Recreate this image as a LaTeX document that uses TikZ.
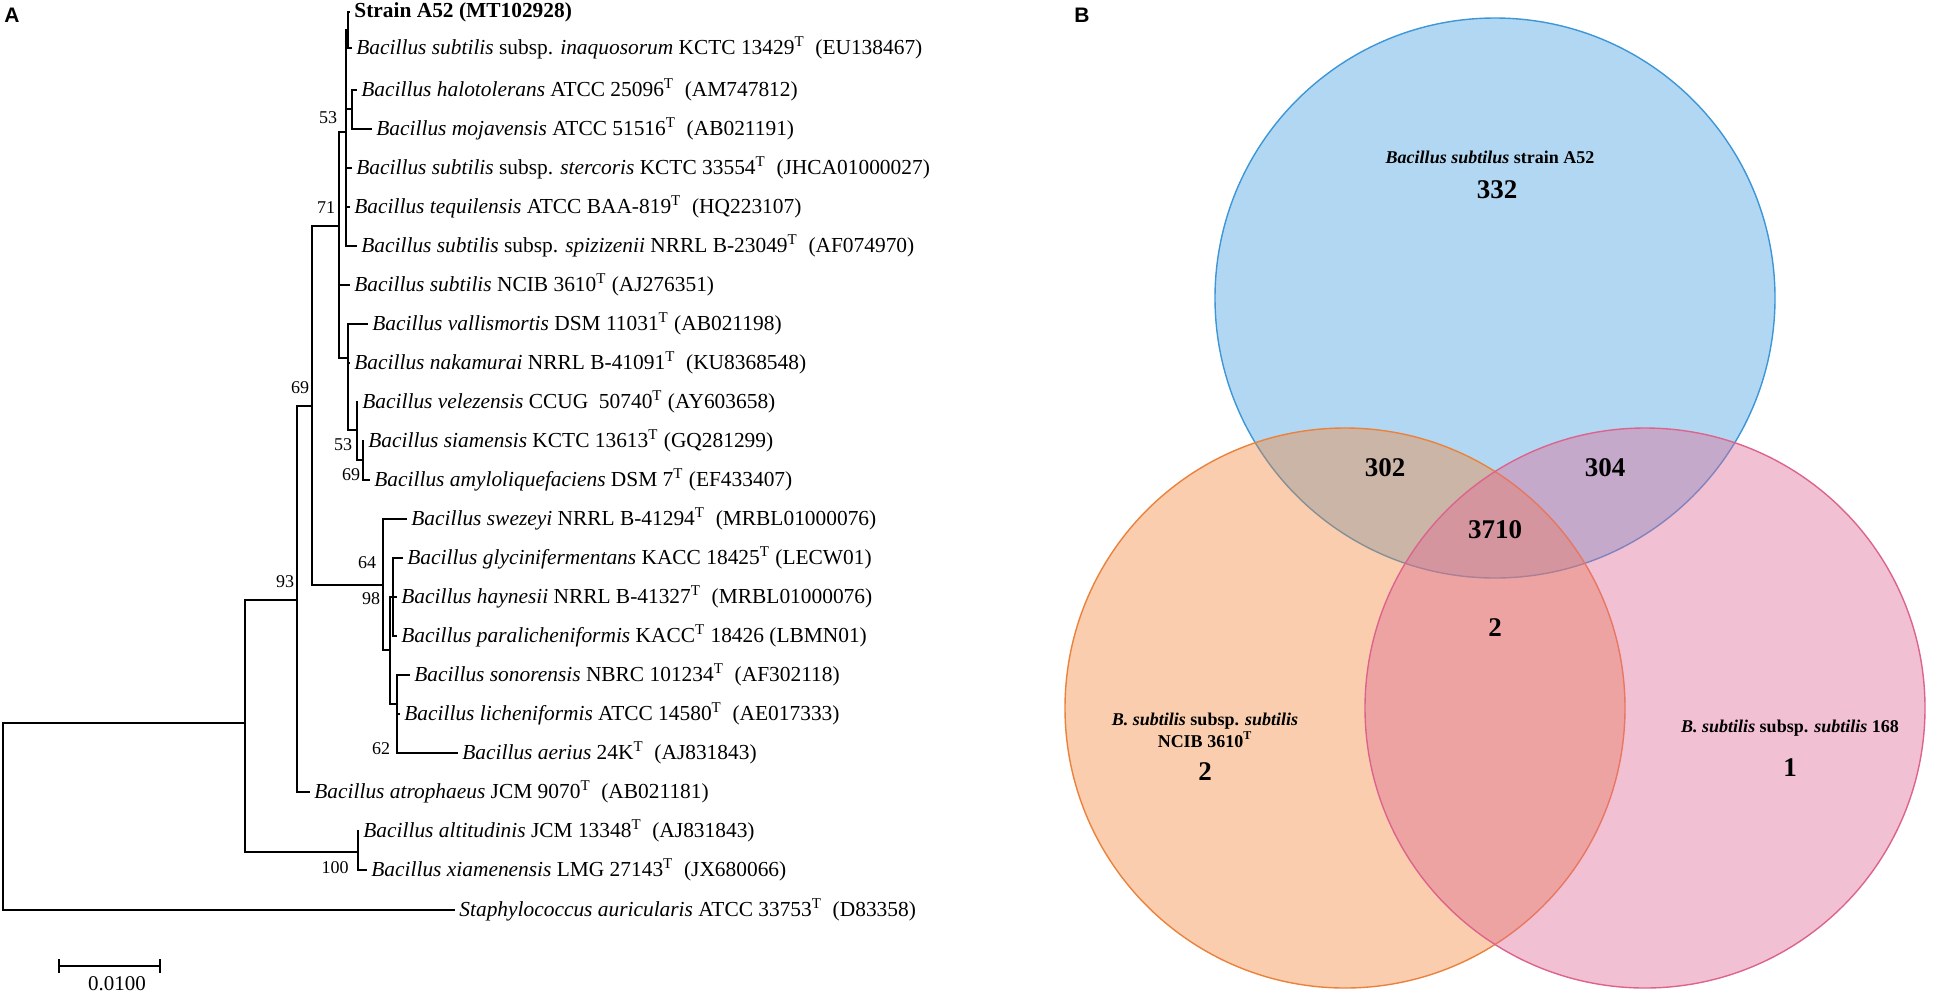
\documentclass[tikz,border=0pt]{standalone}
\usepackage{fontspec}
\setmainfont{Liberation Serif}
\newfontfamily\panelfont{Liberation Sans}
\usepackage{tikz}

\definecolor{blueline}{RGB}{60,150,215}
\definecolor{bluefill}{RGB}{70,160,225}
\definecolor{orangeline}{RGB}{235,130,60}
\definecolor{orangefill}{RGB}{240,135,60}
\definecolor{pinkline}{RGB}{220,100,140}
\definecolor{pinkfill}{RGB}{225,105,150}

\begin{document}
\begin{tikzpicture}[x=0.5pt,y=-0.5pt]
\tikzset{
  leaf/.style={anchor=west,inner xsep=2pt,inner ysep=0pt,font=\fontsize{10.7}{13}\selectfont},
  boot/.style={inner sep=0pt,font=\fontsize{9}{10}\selectfont},
  branch/.style={line width=0.8pt},
  vset/.style={circle,inner sep=0pt,minimum size=280pt,line width=0.7pt,fill opacity=0.42},
  vtext/.style={align=center,font=\fontsize{9}{11}\selectfont\bfseries},
  vnum/.style={font=\fontsize{13.5}{15}\selectfont\bfseries}
}
\useasboundingbox (0,0) rectangle (1950,993);

\node[font=\panelfont\fontsize{10.5}{12}\selectfont\bfseries] (pA) at (12,15) {A};
\node[font=\panelfont\fontsize{10.5}{12}\selectfont\bfseries] (pB) at (1082,15) {B};

\node[leaf] (l0) at (350,12) {\textbf{Strain A52 (MT102928)}};
\node[leaf] (l1) at (352,48) {\textit{Bacillus subtilis} subsp. \textit{inaquosorum} KCTC 13429\textsuperscript{T}\ \ (EU138467)};
\node[leaf] (l2) at (357,90) {\textit{Bacillus halotolerans} ATCC 25096\textsuperscript{T}\ \ (AM747812)};
\node[leaf] (l3) at (372,129) {\textit{Bacillus mojavensis}\ ATCC 51516\textsuperscript{T}\ \ (AB021191)};
\node[leaf] (l4) at (352,168) {\textit{Bacillus subtilis} subsp. \textit{stercoris} KCTC\ 33554\textsuperscript{T}\ \ (JHCA01000027)};
\node[leaf] (l5) at (350,207) {\textit{Bacillus tequilensis} ATCC BAA-819\textsuperscript{T}\ \ (HQ223107)};
\node[leaf] (l6) at (357,246) {\textit{Bacillus subtilis} subsp. \textit{spizizenii} NRRL\ B-23049\textsuperscript{T}\ \ (AF074970)};
\node[leaf] (l7) at (350,285) {\textit{Bacillus subtilis}\ NCIB\ 3610\textsuperscript{T}\ (AJ276351)};
\node[leaf] (l8) at (368,324) {\textit{Bacillus vallismortis} DSM\ 11031\textsuperscript{T}\ (AB021198)};
\node[leaf] (l9) at (350,363) {\textit{Bacillus nakamurai} NRRL\ B-41091\textsuperscript{T}\ \ (KU8368548)};
\node[leaf] (l10) at (358,402) {\textit{Bacillus velezensis}\ CCUG\ \ 50740\textsuperscript{T}\ (AY603658)};
\node[leaf] (l11) at (364,441) {\textit{Bacillus siamensis} KCTC\ 13613\textsuperscript{T}\ (GQ281299)};
\node[leaf] (l12) at (370,480) {\textit{Bacillus amyloliquefaciens} DSM 7\textsuperscript{T} (EF433407)};
\node[leaf] (l13) at (407,519) {\textit{Bacillus swezeyi} NRRL\ B-41294\textsuperscript{T}\ \ (MRBL01000076)};
\node[leaf] (l14) at (403,558) {\textit{Bacillus glycinifermentans} KACC\ 18425\textsuperscript{T}\ (LECW01)};
\node[leaf] (l15) at (397,597) {\textit{Bacillus haynesii} NRRL\ B-41327\textsuperscript{T}\ \ (MRBL01000076)};
\node[leaf] (l16) at (397,636) {\textit{Bacillus paralicheniformis} KACC\textsuperscript{T}\ 18426\ (LBMN01)};
\node[leaf] (l17) at (410,675) {\textit{Bacillus sonorensis} NBRC\ 101234\textsuperscript{T}\ \ (AF302118)};
\node[leaf] (l18) at (400,714) {\textit{Bacillus licheniformis} ATCC\ 14580\textsuperscript{T}\ \ (AE017333)};
\node[leaf] (l19) at (458,753) {\textit{Bacillus aerius} 24K\textsuperscript{T}\ \ (AJ831843)};
\node[leaf] (l20) at (310,792) {\textit{Bacillus atrophaeus} JCM 9070\textsuperscript{T}\ \ (AB021181)};
\node[leaf] (l21) at (359,831) {\textit{Bacillus altitudinis}\ JCM 13348\textsuperscript{T}\ \ (AJ831843)};
\node[leaf] (l22) at (367,870) {\textit{Bacillus xiamenensis} LMG\ 27143\textsuperscript{T}\ \ (JX680066)};
\node[leaf] (l23) at (455,910) {\textit{Staphylococcus auricularis} ATCC 33753\textsuperscript{T}\ \ (D83358)};

\coordinate (root) at (3,816);
\coordinate (nA) at (245,723);
\coordinate (n100) at (358,852);
\coordinate (n93) at (297,600);
\coordinate (n69) at (312,406);
\coordinate (n71) at (339,226);
\coordinate (n53) at (346,132);
\coordinate (nstr) at (348,30);
\coordinate (nhm) at (352,109);
\coordinate (nvn) at (348,358);
\coordinate (n53b) at (357,430);
\coordinate (n69b) at (363,460);
\coordinate (n64) at (383,585);
\coordinate (n98) at (390,650);
\coordinate (ngl) at (393,597);
\coordinate (n62) at (397,704);

\draw[branch] (root) |- (nA);
\draw[branch] (root) |- (l23.west);
\draw[branch] (nA) |- (n93);
\draw[branch] (nA) |- (n100);
\draw[branch] (n100) |- (l21.west);
\draw[branch] (n100) |- (l22.west);
\draw[branch] (n93) |- (n69);
\draw[branch] (n93) |- (l20.west);
\draw[branch] (n69) |- (n71);
\draw[branch] (n69) |- (n64);

\draw[branch] (n71) |- (n53);
\draw[branch] (n71) |- (l7.west);
\draw[branch] (n71) |- (nvn);
\draw[branch] (n53) |- (nstr);
\draw[branch] (n53) |- (nhm);
\draw[branch] (n53) |- (l4.west);
\draw[branch] (n53) |- (l5.west);
\draw[branch] (n53) |- (l6.west);
\draw[branch] (nstr) |- (l0.west);
\draw[branch] (nstr) |- (l1.west);
\draw[branch] (nhm) |- (l2.west);
\draw[branch] (nhm) |- (l3.west);
\draw[branch] (nvn) |- (l8.west);
\draw[branch] (nvn) |- (l9.west);
\draw[branch] (nvn) |- (n53b);
\draw[branch] (n53b) |- (l10.west);
\draw[branch] (n53b) |- (n69b);
\draw[branch] (n69b) |- (l11.west);
\draw[branch] (n69b) |- (l12.west);

\draw[branch] (n64) |- (l13.west);
\draw[branch] (n64) |- (n98);
\draw[branch] (n98) |- (ngl);
\draw[branch] (n98) |- (n62);
\draw[branch] (ngl) |- (l14.west);
\draw[branch] (ngl) |- (l15.west);
\draw[branch] (ngl) |- (l16.west);
\draw[branch] (n62) |- (l17.west);
\draw[branch] (n62) |- (l18.west);
\draw[branch] (n62) |- (l19.west);

\node[boot] (b53) at (328,118) {53};
\node[boot] (b71) at (326,208) {71};
\node[boot] (b69) at (300,388) {69};
\node[boot] (b53b) at (343,445) {53};
\node[boot] (b69b) at (351,475) {69};
\node[boot] (b93) at (285,582) {93};
\node[boot] (b64) at (367,563) {64};
\node[boot] (b98) at (371,599) {98};
\node[boot] (b62) at (381,749) {62};
\node[boot] (b100) at (335,868) {100};

\coordinate (sbL) at (59,966);
\coordinate (sbR) at (160,966);
\draw[branch] (sbL) -- (sbR);
\draw[branch] ([yshift=3.5pt]sbL) -- ([yshift=-3.5pt]sbL);
\draw[branch] ([yshift=3.5pt]sbR) -- ([yshift=-3.5pt]sbR);
\node[font=\fontsize{10.5}{12}\selectfont] (sbT) at (117,984) {0.0100};

\node[vset,fill=bluefill,draw=blueline] (setA) at (1495,298) {};
\node[vset,fill=orangefill,draw=orangeline] (setN) at (1345,708) {};
\node[vset,fill=pinkfill,draw=pinkline] (setS) at (1645,708) {};

\node[vtext] (tA) at (1490,157) {\textit{Bacillus subtilus} strain A52};
\node[vnum] (nA332) at (1497,190) {332};
\node[vtext] (tN) at (1205,730) {\textit{B. subtilis} subsp. \textit{subtilis}\\NCIB 3610\textsuperscript{T}};
\node[vnum] (nN2) at (1205,772) {2};
\node[vtext] (tS) at (1790,728) {\textit{B. subtilis} subsp. \textit{subtilis} 168};
\node[vnum] (nS1) at (1790,768) {1};
\node[vnum] (nAN) at (1385,468) {302};
\node[vnum] (nAS) at (1605,468) {304};
\node[vnum] (nANS) at (1495,530) {3710};
\node[vnum] (nNS) at (1495,628) {2};
\end{tikzpicture}
\end{document}
